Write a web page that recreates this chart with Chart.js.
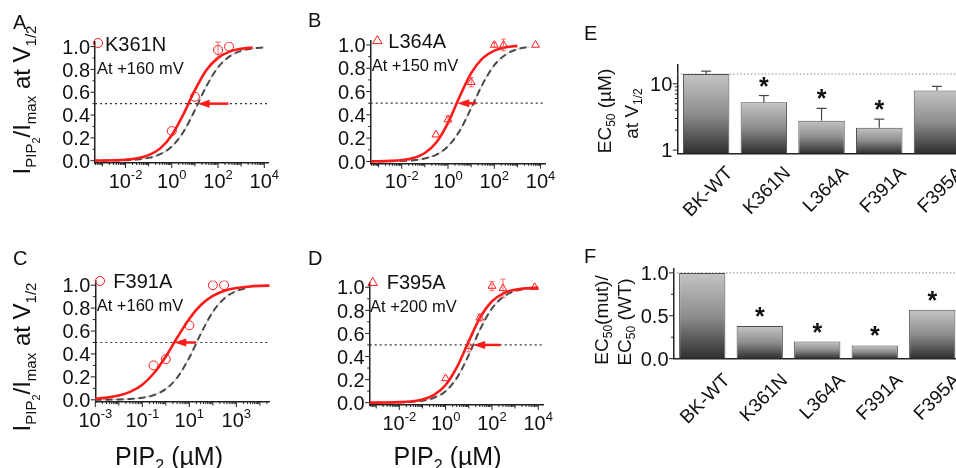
<!DOCTYPE html>
<html>
<head>
<meta charset="utf-8">
<title>PIP2 sensitivity of BK channel mutants</title>
<script src="https://cdn.jsdelivr.net/npm/chart.js@4.4.1/dist/chart.umd.min.js"></script>
<style>
  html, body { margin: 0; padding: 0; background: #fff; overflow: hidden; }
  #fig { position: relative; width: 956px; height: 468px; overflow: hidden; }
  #fig canvas { position: absolute; left: 0; top: 0; }
</style>
</head>
<body>
<div id="fig">
  <canvas id="panelA" width="980" height="468"></canvas>
  <canvas id="panelB" width="980" height="468"></canvas>
  <canvas id="panelC" width="980" height="468"></canvas>
  <canvas id="panelD" width="980" height="468"></canvas>
  <canvas id="panelE" width="980" height="468"></canvas>
  <canvas id="panelF" width="980" height="468"></canvas>
</div>
<script>
// ---- data ----

// log10 of PIP2 (uM) where the fitted curves were sampled
const curveLogX = [-3.5, -3, -2.5, -2, -1.5, -1, -0.5, 0, 0.5, 1, 1.5, 2, 2.5, 3, 3.5, 4, 4.5];

// fitted dose-response curves (I_PIP2 / I_max), null = curve not drawn there
const fitK361N = [0.001, 0.002, 0.004, 0.009, 0.021, 0.049, 0.108, 0.224, 0.406, 0.618, 0.794, 0.901, 0.956, 0.981, 0.992, null, null];
const fitWtA   = [0.0003, 0.0008, 0.002, 0.0045, 0.0105, 0.025, 0.057, 0.124, 0.252, 0.444, 0.654, 0.818, 0.914, 0.962, 0.984, 0.993, null];
const fitL364A = [0.0008, 0.002, 0.005, 0.012, 0.030, 0.073, 0.165, 0.332, 0.555, 0.758, 0.887, 0.952, 0.980, 0.992, null, null, null];
const fitWtB   = [0.0004, 0.0008, 0.002, 0.0047, 0.011, 0.026, 0.059, 0.130, 0.262, 0.457, 0.666, 0.826, 0.918, 0.964, 0.984, null, null];
const fitF391A = [0.0048, 0.0095, 0.019, 0.037, 0.071, 0.132, 0.234, 0.378, 0.548, 0.708, 0.829, 0.906, 0.951, 0.975, 0.987, 0.994, 0.997];
const fitWtC   = [0.0002, 0.0006, 0.0014, 0.0033, 0.0077, 0.018, 0.042, 0.094, 0.198, 0.369, 0.581, 0.767, 0.887, 0.949, 0.978, null, null];
const fitF395A = [0.0003, 0.0007, 0.0018, 0.0045, 0.011, 0.028, 0.067, 0.153, 0.312, 0.532, 0.741, 0.878, 0.947, 0.978, 0.991, 0.997, null];
const fitWtD   = [0.0002, 0.0004, 0.0011, 0.0028, 0.007, 0.017, 0.043, 0.100, 0.219, 0.413, 0.639, 0.816, 0.918, 0.966, 0.986, 0.994, null];

// measured points
const k361nConc = [1, 10, 100, 300];
const k361nResp = [0.26, 0.56, 0.97, 1.0];
const k361nErr  = [0, 0, 0.07, 0];
const l364aConc = [0.3, 1, 10, 100, 250, 6000];
const l364aResp = [0.23, 0.36, 0.68, 1.0, 1.0, 1.0];
const l364aErr  = [0, 0.03, 0.04, 0.02, 0.05, 0];
const f391aConc = [0.3, 1, 10, 100, 300];
const f391aResp = [0.30, 0.355, 0.65, 1.0, 1.0];
const f391aErr  = [0, 0, 0, 0, 0];
const f395aConc = [1, 10, 30, 100, 300, 7000];
const f395aResp = [0.21, 0.49, 0.735, 1.01, 0.99, 1.0];
const f395aErr  = [0, 0.05, 0.03, 0.04, 0.08, 0];

// red arrows at half activation: [tail, head] in uM
const arrowA = [282, 13];
const arrowB = [16.5, 2.5];
const arrowC = [19, 2.3];
const arrowD = [230, 15.5];

// summary bars
const mutants    = ['BK-WT', 'K361N', 'L364A', 'F391A', 'F395A'];
const ec50Mean   = [14.0, 5.25, 2.78, 2.18, 7.95];
const ec50Err    = [1.5, 1.4, 1.48, 0.75, 1.2];
const ec50Ratio  = [1.0, 0.38, 0.2, 0.155, 0.57];
const ec50Sig    = [false, true, true, true, false];
const ratioSig   = [false, true, true, true, true];

// ---- drawing ----
const FONT = '"Liberation Sans", Arial, Helvetica, sans-serif';
const RED = '#ff1a1a';
const INK = '#111';
const W = 980, H = 468;
const TICK_FS = 20;
Chart.defaults.font.family = FONT;

function seg(ctx, x1, y1, x2, y2) {
    ctx.beginPath(); ctx.moveTo(x1, y1); ctx.lineTo(x2, y2); ctx.stroke();
}

// text made of runs with their own size and baseline shift (sub/superscripts)
function drawRich(ctx, runs, x, y, align) {
    let w = 0;
    runs.forEach(r => { ctx.font = (r.b ? 'bold ' : '') + r.s + 'px ' + FONT; r.w = ctx.measureText(r.t).width; w += r.w; });
    let cx = align === 'center' ? x - w / 2 : align === 'right' ? x - w : x;
    ctx.textAlign = 'left';
    ctx.textBaseline = 'alphabetic';
    runs.forEach(r => {
        ctx.font = (r.b ? 'bold ' : '') + r.s + 'px ' + FONT;
        ctx.fillText(r.t, cx, y + (r.dy || 0));
        cx += r.w;
    });
}

function drawRotated(ctx, runs, x, y) {
    ctx.save();
    ctx.translate(x, y);
    ctx.rotate(-Math.PI / 2);
    drawRich(ctx, runs, 0, 0, 'center');
    ctx.restore();
}

function padFor(a) {
    return { left: a.l, top: a.t, right: W - a.r, bottom: H - a.b };
}

function drawMarker(ctx, style, x, y, r) {
    ctx.beginPath();
    if (style === 'triangle') {
        ctx.moveTo(x, y - r * 1.1);
        ctx.lineTo(x + r * 1.05, y + r * 0.7);
        ctx.lineTo(x - r * 1.05, y + r * 0.7);
        ctx.closePath();
    } else {
        ctx.arc(x, y, r, 0, Math.PI * 2);
    }
    ctx.stroke();
}

const axisStyle = { grid: { display: false }, ticks: { display: false }, border: { display: true, color: '#222', width: 1.5 } };

function dosePlugin(p) {
    return {
        id: 'dose' + p.letter,
        beforeDatasetsDraw(chart) {
            const { ctx, chartArea: a, scales: { y } } = chart;
            const yh = y.getPixelForValue(0.5);
            ctx.save();
            ctx.strokeStyle = '#333';
            ctx.lineWidth = 1.2;
            ctx.setLineDash([2, 3]);
            seg(ctx, a.left, yh, a.right, yh);
            ctx.restore();
        },
        afterDatasetsDraw(chart) {
            const { ctx, scales: { x, y } } = chart;
            ctx.save();
            ctx.strokeStyle = 'rgba(255,70,70,0.8)';
            ctx.lineWidth = 1;
            p.conc.forEach((c, i) => {
                if (!p.err[i]) return;
                const px = x.getPixelForValue(c);
                const y1 = y.getPixelForValue(p.resp[i] + p.err[i]);
                const y2 = y.getPixelForValue(p.resp[i] - p.err[i]);
                seg(ctx, px, y1, px, y2);
                seg(ctx, px - 2.5, y1, px + 2.5, y1);
                seg(ctx, px - 2.5, y2, px + 2.5, y2);
            });
            // arrow
            const yh = y.getPixelForValue(0.5);
            const xt = x.getPixelForValue(p.arrow[0]);
            const xh = x.getPixelForValue(p.arrow[1]);
            const dir = Math.sign(xh - xt);
            ctx.strokeStyle = RED;
            ctx.fillStyle = RED;
            ctx.lineWidth = 2.5;
            seg(ctx, xt, yh, xh - dir * 10, yh);
            ctx.beginPath();
            ctx.moveTo(xh, yh);
            ctx.lineTo(xh - dir * 12, yh - 4);
            ctx.lineTo(xh - dir * 12, yh + 4);
            ctx.closePath();
            ctx.fill();
            ctx.restore();
        },
        afterDraw(chart) {
            const { ctx, chartArea: a, scales: { x, y } } = chart;
            ctx.save();
            ctx.strokeStyle = '#222';
            ctx.fillStyle = INK;
            ctx.lineWidth = 1;
            // log x ticks
            for (let d = Math.floor(p.xMin); d <= Math.ceil(p.xMax); d++) {
                for (let m = 1; m < 10; m++) {
                    const v = m * Math.pow(10, d);
                    if (v < x.min || v > x.max) continue;
                    const px = x.getPixelForValue(v);
                    const len = m > 1 ? 2 : (p.xLabels.includes(d) ? 5 : 3.5);
                    seg(ctx, px, a.bottom, px, a.bottom + len);
                }
            }
            p.xLabels.forEach(d => {
                drawRich(ctx, [{ t: '10', s: TICK_FS }, { t: String(d), s: 13, dy: -8.5 }],
                    x.getPixelForValue(Math.pow(10, d)), a.bottom + 24.5, 'center');
            });
            // y ticks
            for (let k = 0; k <= 10; k++) {
                const py = y.getPixelForValue(k / 10);
                seg(ctx, a.left - (k % 2 ? 2.5 : 4.5), py, a.left, py);
                if (k % 2 === 0) drawRich(ctx, [{ t: (k / 10).toFixed(1), s: TICK_FS }], a.left - 5, py + 7.2, 'right');
            }
            // legend
            ctx.strokeStyle = RED;
            drawMarker(ctx, p.marker, p.legend.mx, p.legend.my, 4.5);
            drawRich(ctx, [{ t: p.name, s: 20 }], p.legend.tx, p.legend.ty, 'left');
            drawRich(ctx, [{ t: 'At +' + p.mv + ' mV', s: 16.5 }], p.legend.vx, p.legend.vy, 'left');
            // panel letter and titles
            drawRich(ctx, [{ t: p.letter, s: 20 }], p.lx, p.ly, 'left');
            if (p.yTitle) {
                drawRotated(ctx, [
                    { t: 'I', s: 24 }, { t: 'PIP', s: 15, dy: 6 }, { t: '2', s: 11, dy: 10 },
                    { t: '/I', s: 24 }, { t: 'max', s: 15, dy: 6 },
                    { t: ' at V', s: 24 }, { t: '1/2', s: 15, dy: 6 }
                ], p.yTitle[0], p.yTitle[1]);
            }
            if (p.xTitle) {
                drawRich(ctx, [{ t: 'PIP', s: 25 }, { t: '2', s: 16, dy: 6 }, { t: ' (\u00b5M)', s: 25 }],
                    p.xTitle[0], p.xTitle[1], 'center');
            }
            ctx.restore();
        }
    };
}

function doseChart(id, p) {
    const curve = ys => curveLogX.map((l, i) => ({ x: Math.pow(10, l), y: ys[i] })).filter(d => d.y !== null);
    new Chart(document.getElementById(id), {
        type: 'line',
        data: {
            datasets: [
                {
                    data: p.conc.map((c, i) => ({ x: c, y: p.resp[i] })),
                    showLine: false,
                    pointStyle: p.marker,
                    pointRadius: 4.5,
                    pointBorderColor: RED,
                    pointBackgroundColor: 'rgba(0,0,0,0)',
                    pointBorderWidth: 1
                },
                { data: curve(p.fit), borderColor: RED, borderWidth: 2.6, pointRadius: 0, cubicInterpolationMode: 'monotone' },
                { data: curve(p.wt), borderColor: '#4a4a4a', borderWidth: 2, borderDash: [7, 4], pointRadius: 0, cubicInterpolationMode: 'monotone' },
                { data: curve(p.wt), borderColor: '#c6c6c6', borderWidth: 1, pointRadius: 0, cubicInterpolationMode: 'monotone' }
            ]
        },
        options: {
            responsive: false,
            animation: false,
            events: [],
            layout: { padding: padFor(p.area) },
            scales: {
                x: Object.assign({ type: 'logarithmic', min: Math.pow(10, p.xMin), max: Math.pow(10, p.xMax) }, axisStyle),
                y: Object.assign({ type: 'linear', min: -0.02, max: 1.04 }, axisStyle)
            },
            plugins: { legend: { display: false }, tooltip: { enabled: false } }
        },
        plugins: [dosePlugin(p)]
    });
}

function gradientFill(context) {
    const chart = context.chart;
    const area = chart.chartArea;
    if (!area || context.type !== 'data') return '#888';
    const top = chart.scales.y.getPixelForValue(context.raw);
    const g = chart.ctx.createLinearGradient(0, top, 0, area.bottom);
    g.addColorStop(0, '#c4c4c4');
    g.addColorStop(0.5, '#8e8e8e');
    g.addColorStop(1, '#2e2e2e');
    return g;
}

function barPlugin(p) {
    return {
        id: 'bars' + p.letter,
        beforeDatasetsDraw(chart) {
            const { ctx, chartArea: a, scales: { y } } = chart;
            const yr = y.getPixelForValue(p.ref);
            ctx.save();
            ctx.strokeStyle = '#8a8a8a';
            ctx.lineWidth = 1;
            ctx.setLineDash([1.5, 2]);
            seg(ctx, a.left, yr, a.right, yr);
            ctx.restore();
        },
        afterDatasetsDraw(chart) {
            const { ctx, scales: { y } } = chart;
            const bars = chart.getDatasetMeta(0).data;
            ctx.save();
            ctx.strokeStyle = '#444';
            ctx.fillStyle = INK;
            ctx.lineWidth = 1.2;
            p.values.forEach((v, i) => {
                let top = v;
                if (p.err) {
                    top = v + p.err[i];
                    const y1 = y.getPixelForValue(v), y2 = y.getPixelForValue(top);
                    seg(ctx, bars[i].x, y1, bars[i].x, y2);
                    seg(ctx, bars[i].x - 5, y2, bars[i].x + 5, y2);
                }
                if (p.sig[i]) {
                    drawRich(ctx, [{ t: '*', s: 25, b: true }], bars[i].x, y.getPixelForValue(top) - 15 + 14, 'center');
                }
            });
            ctx.restore();
        },
        afterDraw(chart) {
            const { ctx, chartArea: a, scales: { y } } = chart;
            const bars = chart.getDatasetMeta(0).data;
            ctx.save();
            ctx.strokeStyle = '#222';
            ctx.fillStyle = INK;
            ctx.lineWidth = 1;
            p.yMinor.forEach(v => seg(ctx, a.left - 2.5, y.getPixelForValue(v), a.left, y.getPixelForValue(v)));
            p.yMajor.forEach((v, i) => {
                const py = y.getPixelForValue(v);
                seg(ctx, a.left - 4.5, py, a.left, py);
                drawRich(ctx, [{ t: p.yLabels[i], s: TICK_FS }], a.left - 5, py + 7.2, 'right');
            });
            // slanted category labels
            const fs = 19;
            ctx.font = fs + 'px ' + FONT;
            ctx.textAlign = 'right';
            ctx.textBaseline = 'alphabetic';
            mutants.forEach((m, i) => {
                ctx.save();
                ctx.translate(bars[i].x + p.labelOff[0], a.bottom + p.labelOff[1]);
                ctx.rotate(-Math.PI / 4);
                ctx.fillText(m, 0, fs * 0.716);
                ctx.restore();
            });
            drawRich(ctx, [{ t: p.letter, s: 20 }], p.lx, p.ly, 'left');
            p.titles.forEach(tl => drawRotated(ctx, tl.runs, tl.x, tl.y));
            ctx.restore();
        }
    };
}

function barChart(id, p) {
    new Chart(document.getElementById(id), {
        type: 'bar',
        data: {
            labels: mutants,
            datasets: [{
                data: p.values,
                backgroundColor: gradientFill,
                borderColor: '#4d4d4d',
                borderWidth: 1,
                barPercentage: 0.805,
                categoryPercentage: 1
            }]
        },
        options: {
            responsive: false,
            animation: false,
            events: [],
            layout: { padding: padFor(p.area) },
            scales: {
                x: Object.assign({}, axisStyle),
                y: Object.assign({ type: p.log ? 'logarithmic' : 'linear', min: p.yMin, max: p.yMax }, axisStyle)
            },
            plugins: { legend: { display: false }, tooltip: { enabled: false } }
        },
        plugins: [barPlugin(p)]
    });
}

doseChart('panelA', {
    letter: 'A', lx: 13, ly: 28.5,
    area: { l: 87, t: 42, r: 268, b: 171 }, xMin: -3.32, xMax: 4.16, xLabels: [-2, 0, 2, 4],
    name: 'K361N', mv: 160, marker: 'circle',
    conc: k361nConc, resp: k361nResp, err: k361nErr, fit: fitK361N, wt: fitWtA, arrow: arrowA,
    legend: { mx: 98, my: 43, tx: 105, ty: 51, vx: 97, vy: 74 },
    yTitle: [30, 100]
});

doseChart('panelB', {
    letter: 'B', lx: 308, ly: 27.3,
    area: { l: 362.7, t: 40.3, r: 545, b: 171.8 }, xMin: -3.34, xMax: 4.19, xLabels: [-2, 0, 2, 4],
    name: 'L364A', mv: 150, marker: 'triangle',
    conc: l364aConc, resp: l364aResp, err: l364aErr, fit: fitL364A, wt: fitWtB, arrow: arrowB,
    legend: { mx: 377.3, my: 40.5, tx: 388.3, ty: 47.7, vx: 371.7, vy: 70.8 }
});

doseChart('panelC', {
    letter: 'C', lx: 13, ly: 265,
    area: { l: 87.3, t: 280.6, r: 269.5, b: 410.1 }, xMin: -3, xMax: 4.41, xLabels: [-3, -1, 1, 3],
    name: 'F391A', mv: 160, marker: 'circle',
    conc: f391aConc, resp: f391aResp, err: f391aErr, fit: fitF391A, wt: fitWtC, arrow: arrowC,
    legend: { mx: 100, my: 281, tx: 113.3, ty: 288, vx: 96.7, vy: 310.8 },
    yTitle: [30, 357], xTitle: [169, 465]
});

doseChart('panelD', {
    letter: 'D', lx: 308, ly: 265,
    area: { l: 361.7, t: 282.6, r: 543.3, b: 413 }, xMin: -3.28, xMax: 4.22, xLabels: [-2, 0, 2, 4],
    name: 'F395A', mv: 200, marker: 'triangle',
    conc: f395aConc, resp: f395aResp, err: f395aErr, fit: fitF395A, wt: fitWtD, arrow: arrowD,
    legend: { mx: 372.7, my: 282.3, tx: 386.7, ty: 289.3, vx: 370, vy: 311.8 },
    xTitle: [447.5, 465]
});

barChart('panelE', {
    letter: 'E', lx: 584, ly: 40,
    area: { l: 669.3, t: 65, r: 965.8, b: 161.5 },
    log: true, yMin: 0.889, yMax: 19.2,
    values: ec50Mean, err: ec50Err, sig: ec50Sig, ref: ec50Mean[0],
    yMajor: [1, 10], yLabels: ['1', '10'], yMinor: [2, 3, 4, 5, 6, 7, 8, 9],
    labelOff: [18, 11],
    titles: [
        { runs: [{ t: 'EC', s: 19 }, { t: '50', s: 12, dy: 4 }, { t: ' (\u00b5M)', s: 19 }], x: 611, y: 111 },
        { runs: [{ t: 'at V', s: 19 }, { t: '1/2', s: 12, dy: 4 }], x: 638, y: 113.5 }
    ]
});

barChart('panelF', {
    letter: 'F', lx: 584, ly: 263,
    area: { l: 665.5, t: 268.6, r: 961, b: 366.7 },
    log: false, yMin: 0, yMax: 1.05,
    values: ec50Ratio, err: null, sig: ratioSig, ref: ec50Ratio[0],
    yMajor: [0, 0.5, 1], yLabels: ['0.0', '0.5', '1.0'], yMinor: [0.25, 0.75],
    labelOff: [19, 13],
    titles: [
        { runs: [{ t: 'EC', s: 19 }, { t: '50', s: 12, dy: 4 }, { t: '(mut)/', s: 19 }], x: 608, y: 320 },
        { runs: [{ t: 'EC', s: 19 }, { t: '50', s: 12, dy: 4 }, { t: ' (WT)', s: 19 }], x: 631, y: 322 }
    ]
});
</script>
</body>
</html>
